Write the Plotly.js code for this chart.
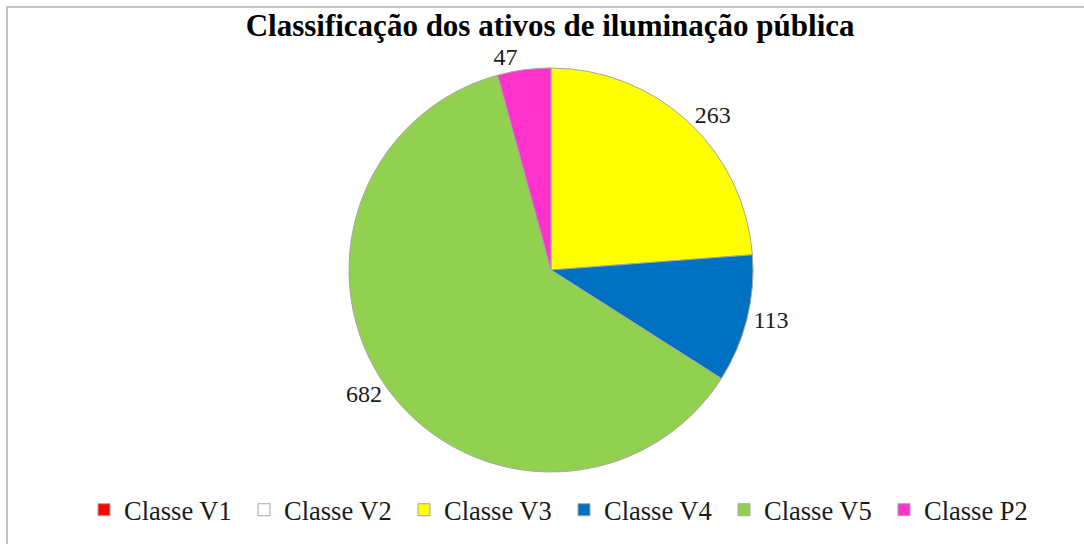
<!DOCTYPE html>
<html>
<head>
<meta charset="utf-8">
<script src="https://cdn.plot.ly/plotly-3.0.1.min.js"></script>
<style>
  html, body { margin: 0; padding: 0; background: #ffffff; }
  #chart { position: absolute; left: 0; top: 0; width: 1084px; height: 544px; }
  #frame { position: absolute; left: 6px; top: 6px; width: 1200px; height: 700px;
           border-left: 2px solid #c4c4c4; border-top: 2px solid #c4c4c4; pointer-events: none; }
</style>
</head>
<body>
<div id="chart"></div>
<div id="frame"></div>
<script>
const categories = ["Classe V1", "Classe V2", "Classe V3", "Classe V4", "Classe V5", "Classe P2"];
const values = [0, 0, 263, 113, 682, 47];
const colors = ["#ff0000", "#ffffff", "#ffff00", "#0070c0", "#92d050", "#ff33cc"];
const titleText = "Classificação dos ativos de iluminação pública";

const W = 1084, H = 544;
const cx = 551, cy = 270, R = 202;
const serif = "Liberation Serif, Times New Roman, serif";

const trace = {
  type: "pie",
  labels: categories,
  values: values,
  sort: false,
  direction: "clockwise",
  rotation: 0,
  marker: { colors: colors, line: { color: "#a6a6a6", width: 1 } },
  textposition: "outside",
  texttemplate: values.map(v => v > 0 ? "%{value}" : ""),
  textfont: { family: serif, size: 24, color: "#1a1a1a" },
  outsidetextfont: { family: serif, size: 24, color: "#1a1a1a" },
  hoverinfo: "label+value",
  domain: {
    x: [(cx - R) / W, (cx + R) / W],
    y: [(H - (cy + R)) / H, (H - (cy - R)) / H]
  },
  automargin: false
};

const layout = {
  width: W, height: H,
  margin: { l: 0, r: 0, t: 0, b: 0 },
  paper_bgcolor: "#ffffff",
  title: {
    text: "<b>" + titleText + "</b>",
    font: { family: serif, size: 31, color: "#000000" },
    x: 0.5075, xanchor: "center",
    y: 1 - 25 / H, yanchor: "middle",
    yref: "paper"
  },
  showlegend: true,
  legend: {
    orientation: "h",
    x: 84 / W, xanchor: "left",
    y: 1 - 510 / H, yanchor: "middle",
    font: { family: serif, size: 26.5, color: "#1a1a1a" },
    entrywidth: 115, entrywidthmode: "pixels",
    traceorder: "normal",
    bgcolor: "rgba(0,0,0,0)"
  }
};

Plotly.newPlot("chart", [trace], layout, { displayModeBar: false, staticPlot: true });
</script>
</body>
</html>
